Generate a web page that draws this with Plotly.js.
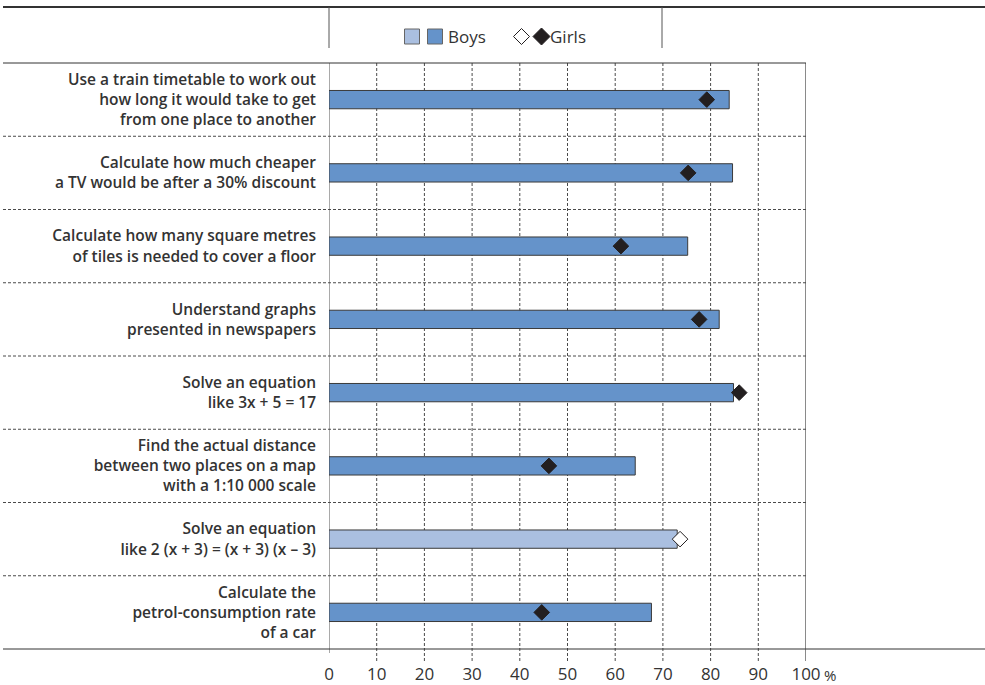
<!DOCTYPE html>
<html>
<head>
<meta charset="utf-8">
<script src="https://cdn.plot.ly/plotly-3.0.1.min.js"></script>
<style>html,body{margin:0;padding:0;background:#fff;}#chart{width:985px;height:685px;}</style>
</head>
<body>
<div id="chart"></div>
<script>
// ---- data ----
const categories = [
  "Use a train timetable to work out<br>how long it would take to get<br>from one place to another",
  "Calculate how much cheaper<br>a TV would be after a 30% discount",
  "Calculate how many square metres<br>of tiles is needed to cover a floor",
  "Understand graphs<br>presented in newspapers",
  "Solve an equation<br>like 3x + 5 = 17",
  "Find the actual distance<br>between two places on a map<br>with a 1:10 000 scale",
  "Solve an equation<br>like 2 (x + 3) = (x + 3) (x – 3)",
  "Calculate the<br>petrol-consumption rate<br>of a car"
];
const boys  = [83.9, 84.6, 75.2, 81.8, 84.8, 64.2, 73.0, 67.6];
const girls = [79.2, 75.3, 61.2, 77.6, 86.0, 46.1, 73.6, 44.6];
// whether the difference is statistically significant (dark) or not (light)
const significant = [true, true, true, true, true, true, false, true];
const xTicks = [0, 10, 20, 30, 40, 50, 60, 70, 80, 90, 100];
const xTickText = ["0", "10", "20", "30", "40", "50", "60", "70", "80", "90", "100"];
const legendLabels = ["Boys", "Girls"];

// ---- geometry helpers ----
const W = 985, H = 685, L = 329, R = 806, T = 63, B = 649;
const px = v => (v - L) / (R - L);
const py = v => (B - v) / (B - T);

const idx = categories.map((c, i) => i);
const DARK = "#6593ca", LIGHT = "#aabfe0", INK = "#231f20";

const barTrace = {
  type: "bar", orientation: "h",
  x: boys, y: idx, width: 0.25,
  marker: {color: significant.map(s => s ? DARK : LIGHT),
           line: {color: "#3a3a3a", width: 1}},
  hoverinfo: "x", showlegend: false
};
const girlTrace = {
  type: "scatter", mode: "markers",
  x: girls, y: idx,
  marker: {symbol: "diamond", size: 12,
           color: significant.map(s => s ? INK : "#ffffff"),
           line: {color: INK, width: 1}},
  hoverinfo: "x", showlegend: false
};

const shapes = [];
// vertical grid lines
xTicks.forEach(v => {
  const edge = (v === 0 || v === 100);
  shapes.push({type: "line", xref: "x", yref: "paper", x0: v, x1: v,
    y0: v === 0 ? py(653) : py(661), y1: 1, layer: "below",
    line: {color: v === 100 ? "#8a8a8a" : (v === 0 ? "#555" : "#4a4a4a"),
           width: v === 100 ? 2 : 1, dash: edge ? "solid" : "3px,2px"}});
});
// horizontal category separators
for (let i = 0; i < categories.length - 1; i++) {
  shapes.push({type: "line", xref: "paper", yref: "y", x0: px(3), x1: 1, y0: i + 0.5, y1: i + 0.5,
    layer: "below", line: {color: "#4a4a4a", width: 1, dash: "3px,2px"}});
}
// frame lines
shapes.push({type: "line", xref: "paper", yref: "paper", x0: px(3), x1: px(985), y0: py(7), y1: py(7), line: {color: "#333", width: 2}});
shapes.push({type: "line", xref: "paper", yref: "paper", x0: px(3), x1: 1, y0: 1, y1: 1, line: {color: "#333", width: 1}});
shapes.push({type: "line", xref: "paper", yref: "paper", x0: px(3), x1: px(985), y0: 0, y1: 0, line: {color: "#333", width: 1}});
shapes.push({type: "line", xref: "paper", yref: "paper", x0: px(329), x1: px(329), y0: py(48), y1: py(7), line: {color: "#555", width: 1}});
shapes.push({type: "line", xref: "paper", yref: "paper", x0: px(662), x1: px(662), y0: py(48), y1: py(7), line: {color: "#555", width: 1}});
// legend swatches
shapes.push({type: "rect", xref: "paper", yref: "paper", x0: px(404.5), x1: px(419.5), y0: py(44), y1: py(29), fillcolor: LIGHT, line: {color: "#666", width: 1}});
shapes.push({type: "rect", xref: "paper", yref: "paper", x0: px(427.5), x1: px(442.5), y0: py(44), y1: py(29), fillcolor: DARK, line: {color: "#666", width: 1}});
function diamondPath(cx, cy, r) {
  return `M${px(cx - r)},${py(cy)} L${px(cx)},${py(cy - r)} L${px(cx + r)},${py(cy)} L${px(cx)},${py(cy + r)} Z`;
}
shapes.push({type: "path", xref: "paper", yref: "paper", path: diamondPath(521.5, 36.5, 8), fillcolor: "#fff", line: {color: INK, width: 1}});
shapes.push({type: "path", xref: "paper", yref: "paper", path: diamondPath(541.5, 36.5, 8.5), fillcolor: INK, line: {color: INK, width: 1}});

const annotations = [
  {xref: "paper", yref: "paper", x: px(446), y: py(36.5), xanchor: "left", yanchor: "middle",
   text: legendLabels[0], showarrow: false, font: {family: "Open Sans", size: 17, color: "#333"}},
  {xref: "paper", yref: "paper", x: px(548), y: py(36.5), xanchor: "left", yanchor: "middle",
   text: legendLabels[1], showarrow: false, font: {family: "Open Sans", size: 17, color: "#333"}},
  {xref: "paper", yref: "paper", x: px(822), y: py(675), xanchor: "left", yanchor: "middle",
   text: "%", showarrow: false, font: {family: "Open Sans", size: 15, color: "#333"}}
];

const layout = {
  width: W, height: H,
  margin: {l: L, r: W - R, t: T, b: H - B, pad: 0},
  paper_bgcolor: "#fff", plot_bgcolor: "rgba(0,0,0,0)",
  font: {family: "Open Sans", color: "#333"},
  xaxis: {range: [0, 100], tickvals: xTicks, ticktext: xTickText, showgrid: false, zeroline: false,
          showline: false, ticks: "outside", ticklen: 10, tickcolor: "rgba(0,0,0,0)",
          tickfont: {family: "Open Sans", size: 17, color: "#333"}, fixedrange: true},
  yaxis: {range: [7.5, -0.5], tickvals: idx, ticktext: categories, showgrid: false, zeroline: false,
          showline: false, ticks: "", ticklabelstandoff: 12,
          tickfont: {family: "Open Sans", size: 15.5, weight: 600, color: "#333"}, fixedrange: true},
  shapes: shapes, annotations: annotations, showlegend: false, bargap: 0
};

Plotly.newPlot("chart", [barTrace, girlTrace], layout, {displayModeBar: false, staticPlot: true});
</script>
</body>
</html>
